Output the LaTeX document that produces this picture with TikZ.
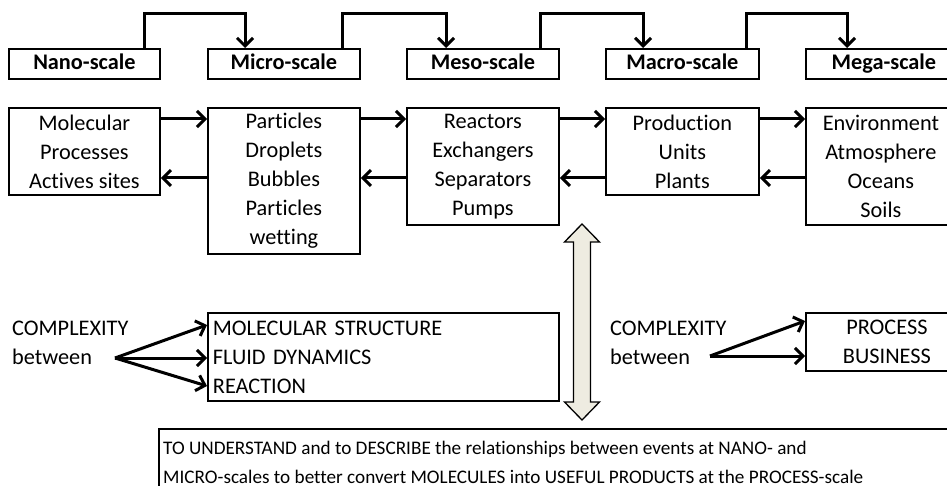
\documentclass[tikz,border=0pt]{standalone}
\usepackage{fontspec}
\setmainfont{Carlito}[Ligatures=NoCommon]
\usetikzlibrary{arrows.meta}

\definecolor{shaftfill}{HTML}{EEECE1}

\begin{document}
\begin{tikzpicture}[x=1pt,y=-1pt,
  box/.style={draw=black, line width=1.8pt, inner sep=0pt, anchor=north west,
    align=center, font=\fontsize{22.3}{29}\selectfont},
  scalebox/.style={box, font=\bfseries\fontsize{22.3}{29}\selectfont,
    minimum height=30pt, text height=15pt, text depth=4pt},
  plain/.style={inner sep=0pt, align=left, font=\fontsize{22.3}{29}\selectfont},
  flow/.style={line width=3pt,
    -{Straight Barb[length=8pt,width=16pt,line width=3pt]}},
  goaltext/.style={plain, anchor=base west, font=\fontsize{19.2}{29}\selectfont}
]
\useasboundingbox (0,0) rectangle (947,486);
\clip (0,0) rectangle (947,486);

% scale labels
\node[scalebox, minimum width=151pt] (nano)  at (8,48)   {Nano-scale};
\node[scalebox, minimum width=152pt] (micro) at (207,48) {Micro-scale};
\node[scalebox, minimum width=152pt] (meso)  at (406,48) {Meso-scale};
\node[scalebox, minimum width=153pt] (macro) at (605,48) {Macro-scale};
\node[scalebox, minimum width=156pt] (mega)  at (805,48) {Mega-scale};

% scale-to-scale links
\draw[flow] ([xshift=-16pt]nano.north east)  -- ++(0,-34) -| ([xshift=38pt]micro.north west);
\draw[flow] ([xshift=-18pt]micro.north east) -- ++(0,-34) -| ([xshift=40pt]meso.north west);
\draw[flow] ([xshift=-19pt]meso.north east)  -- ++(0,-34) -| ([xshift=38pt]macro.north west);
\draw[flow] ([xshift=-13pt]macro.north east) -- ++(0,-34) -| ([xshift=42pt]mega.north west);

% objects at each scale
\node[box, minimum width=151pt, minimum height=87pt]  (mol)   at (8,107)
  {Molecular\\Processes\\Actives sites};
\node[box, minimum width=152pt, minimum height=146pt] (part)  at (207,107)
  {Particles\\Droplets\\Bubbles\\Particles\\wetting};
\node[box, minimum width=152pt, minimum height=117pt] (react) at (406,107)
  {Reactors\\Exchangers\\Separators\\Pumps};
\node[box, minimum width=153pt, minimum height=87pt]  (prod)  at (605,107)
  {Production\\Units\\Plants};
\node[box, minimum width=150pt, minimum height=117pt] (env)   at (805,107)
  {Environment\\Atmosphere\\Oceans\\Soils};

% forward and backward links between neighbouring scales
\foreach \a/\b in {mol/part, part/react, react/prod, prod/env} {
  \draw[flow] ([yshift=-12pt]\a.north east) -- ([yshift=-12pt]\b.north west);
  \draw[flow] ([yshift=-71pt]\b.north west) -- ([yshift=-71pt]\a.north east);
}

% up/down block arrow
\draw[line width=1.3pt, fill=shaftfill, line join=miter]
  (582,224) -- (599.5,242) -- (590.5,242) -- (590.5,402) -- (599.5,402)
  -- (582,420) -- (564.5,402) -- (573.5,402) -- (573.5,242) -- (564.5,242) -- cycle;

% complexity at small scales
\node[plain, anchor=west] (cxa) at (12,343) {COMPLEXITY\\between};
\node[box, minimum width=351pt, minimum height=88pt, text width=341pt,
  inner xsep=5pt, align=left] (struct) at (207,312)
  {MOLECULAR STRUCTURE\\FLUID DYNAMICS\\REACTION};
\coordinate (cxaout) at (115,358);
\draw[flow] (cxaout) -- ([yshift=-13pt]struct.north west);
\draw[flow] (cxaout) -- ([yshift=-46pt]struct.north west);
\draw[flow] (cxaout) -- ([yshift=-74pt]struct.north west);

% complexity at large scales
\node[plain, anchor=west] (cxb) at (610,343) {COMPLEXITY\\between};
\node[box, minimum width=162pt, minimum height=58pt] (proc) at (805,312)
  {PROCESS\\BUSINESS};
\coordinate (cxbout) at (710,356);
\draw[flow] (cxbout) -- ([yshift=-9pt]proc.north west);
\draw[flow] (cxbout) -- ([yshift=-44pt]proc.north west);

% goal statement
\node[box, line width=2.4pt, minimum width=820pt, minimum height=80pt]
  (goal) at (158,428) {};
\node[goaltext] (goalA) at (163,454)
  {TO UNDERSTAND and to DESCRIBE the relationships between events at NANO- and};
\node[goaltext] (goalB) at (163,483)
  {MICRO-scales to better convert MOLECULES into USEFUL PRODUCTS at the PROCESS-scale};
\end{tikzpicture}
\end{document}
